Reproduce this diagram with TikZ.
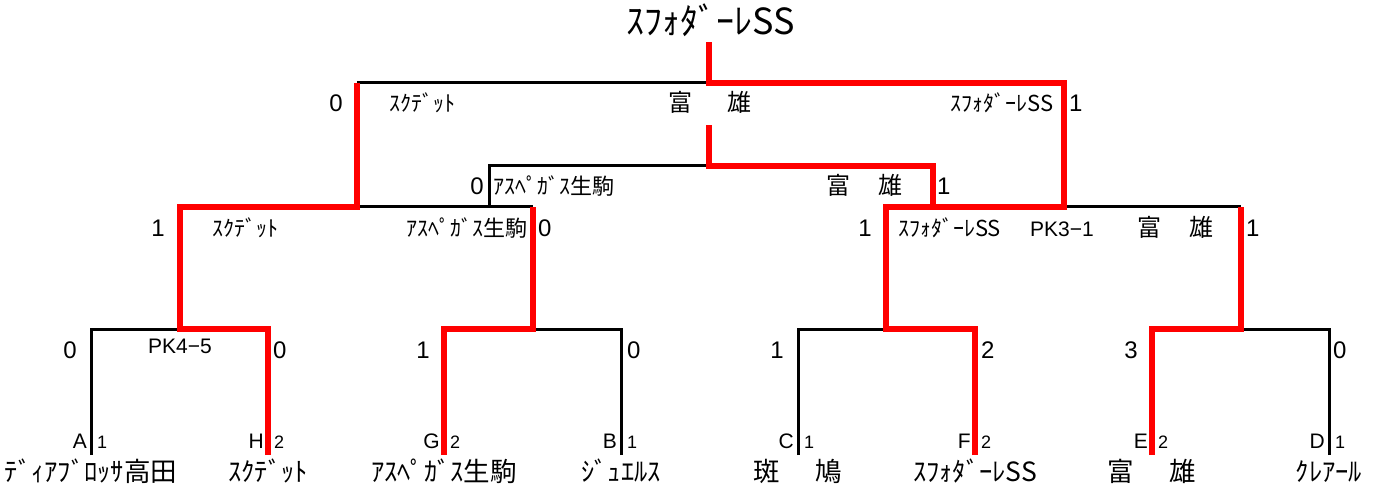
\documentclass[tikz,border=0pt]{standalone}
\usepackage{fontspec}
\setmainfont{Liberation Sans}
\newfontfamily\jp{Noto Sans CJK JP}
\usetikzlibrary{calc}
\tikzset{
    score/.style={font=\fontsize{24}{24}\selectfont, inner sep=0pt},
    club/.style={font=\jp\fontsize{22}{22}\selectfont, inner sep=0pt}, %small names
    team/.style={font=\jp\fontsize{26.5}{27}\selectfont, inner sep=0pt},
    letter/.style={font=\fontsize{21}{21}\selectfont, inner sep=0pt},
    seed/.style={font=\fontsize{18}{18}\selectfont, inner sep=0pt},
    lose/.style={draw=black, line width=3pt},
    win/.style={draw=red, line width=6.5pt, line join=miter},
  }

\begin{document}
\begin{tikzpicture}[x=1pt, y=-1pt]
          \useasboundingbox (0,0) rectangle (1386,489);
          % teams
          \coordinate (A) at (91,455);
          \coordinate (H) at (268,455);
          \coordinate (G) at (444,455);
          \coordinate (B) at (621,455);
          \coordinate (C) at (798,455);
          \coordinate (F) at (975,455);
          \coordinate (E) at (1152,455);
          \coordinate (D) at (1329,455);
          % joins
          \coordinate (m1) at (180,329);
          \coordinate (m2) at (533,329);
          \coordinate (m3) at (886,329);
          \coordinate (m4) at (1241,329);
          \coordinate (s1) at (357,207);
          \coordinate (s2) at (1064,207);
          \coordinate (l3) at (489,207);
          \coordinate (r3) at (933,207);
          \coordinate (t3) at (709,166);
          \coordinate (t3top) at (709,125);
          \coordinate (fin) at (709,83);
          \coordinate (top) at (709,42);

          % lost
          \draw[lose] (A) |- (m1);
          \draw[lose] (B) |- (m2);
          \draw[lose] (C) |- (m3);
          \draw[lose] (D) |- (m4);
          \draw[lose] (m2 |- s1) -- (s1);
          \draw[lose] (m4 |- s2) -- (s2);
          \draw[lose] (l3) |- (t3);
          \draw[lose] (s1 |- fin) -- (fin);
          % won
          \draw[win] (H) |- (m1) |- (s1) -- (s1 |- fin);
          \draw[win] (G) |- (m2) -- (m2 |- s1);
          \draw[win] (E) |- (m4) -- (m4 |- s2);
          \draw[win] (F) |- (m3) |- (s2) |- (fin) -- (top);
          \draw[win] (r3) |- (t3) -- (t3top);

          % champion
          \node[font=\jp\fontsize{36}{36}\selectfont, anchor=base] (champ) at (711,35) {ｽﾌｫﾀﾞｰﾚSS};

          % final
          \node[score, anchor=base east] (fsL) at (343,112) {0};
          \node[club, anchor=base west] (fnL) at (389,112) {ｽｸﾃﾞｯﾄ};
          \node[team, font=\jp\fontsize{24}{24}\selectfont, anchor=base] (fn3) at (710,112) {富\hspace{1.45em}雄};
          \node[club, anchor=base east] (fnR) at (1054,112) {ｽﾌｫﾀﾞｰﾚSS};
          \node[score, anchor=base west] (fsR) at (1069,112) {1};

          % third place
          \node[score, anchor=base east] (tsL) at (484,194) {0};
          \node[club, anchor=base west] (tnL) at (493,194) {ｱｽﾍﾟｶﾞｽ生駒};
          \node[team, font=\jp\fontsize{24}{24}\selectfont, anchor=base east] (tnR) at (903,194) {富\hspace{1.2em}雄};
          \node[score, anchor=base west] (tsR) at (937,194) {1};

          % semi finals
          \node[score, anchor=base east] (ss1) at (165,236) {1};
          \node[club, anchor=base west] (sn1) at (212,236) {ｽｸﾃﾞｯﾄ};
          \node[club, anchor=base east] (sn2) at (528,236) {ｱｽﾍﾟｶﾞｽ生駒};
          \node[score, anchor=base west] (ss2) at (538,236) {0};
          \node[score, anchor=base east] (ss3) at (872,236) {1};
          \node[club, anchor=base west] (sn3) at (898,236) {ｽﾌｫﾀﾞｰﾚSS};
          \node[score, font=\fontsize{21}{21}\selectfont, anchor=base west] (pk2) at (1030,236) {PK3−1};
          \node[team, font=\jp\fontsize{24}{24}\selectfont, anchor=base west] (sn4) at (1137,236) {富\hspace{1.2em}雄};
          \node[score, anchor=base west] (ss4) at (1246,236) {1};

          % first round
          \node[score, anchor=base east] (rA) at (77,358) {0};
          \node[score, font=\fontsize{21}{21}\selectfont, anchor=base] (pk1) at (180,353) {PK4−5};
          \node[score, anchor=base west] (rH) at (273,358) {0};
          \node[score, anchor=base east] (rG) at (430,358) {1};
          \node[score, anchor=base west] (rB) at (627,358) {0};
          \node[score, anchor=base east] (rC) at (784,358) {1};
          \node[score, anchor=base west] (rF) at (981,358) {2};
          \node[score, anchor=base east] (rE) at (1138,358) {3};
          \node[score, anchor=base west] (rD) at (1333,358) {0};

          % letters and seeds
          \node[letter, anchor=base east] (lA) at (87,448) {A};
          \node[seed, anchor=base west] (nA) at (97,448) {1};
          \node[letter, anchor=base east] (lH) at (264,448) {H};
          \node[seed, anchor=base west] (nH) at (274,448) {2};
          \node[letter, anchor=base east] (lG) at (440,448) {G};
          \node[seed, anchor=base west] (nG) at (450,448) {2};
          \node[letter, anchor=base east] (lB) at (617,448) {B};
          \node[seed, anchor=base west] (nB) at (627,448) {1};
          \node[letter, anchor=base east] (lC) at (794,448) {C};
          \node[seed, anchor=base west] (nC) at (804,448) {1};
          \node[letter, anchor=base east] (lF) at (971,448) {F};
          \node[seed, anchor=base west] (nF) at (981,448) {2};
          \node[letter, anchor=base east] (lE) at (1148,448) {E};
          \node[seed, anchor=base west] (nE) at (1158,448) {2};
          \node[letter, anchor=base east] (lD) at (1325,448) {D};
          \node[seed, anchor=base west] (nD) at (1335,448) {1};

          % team names
          \node[team, anchor=base] (tA) at (A |- 0,481) {ﾃﾞｨｱﾌﾞﾛｯｻ高田};
          \node[team, anchor=base] (tH) at (H |- 0,481) {ｽｸﾃﾞｯﾄ};
          \node[team, anchor=base] (tG) at (G |- 0,481) {ｱｽﾍﾟｶﾞｽ生駒};
          \node[team, anchor=base] (tB) at (B |- 0,481) {ｼﾞｭｴﾙｽ};
          \node[team, anchor=base] (tC) at (C |- 0,481) {斑\hspace{1.35em}鳩};
          \node[team, anchor=base] (tF) at (F |- 0,481) {ｽﾌｫﾀﾞｰﾚSS};
          \node[team, anchor=base] (tE) at (E |- 0,481) {富\hspace{1.35em}雄};
          \node[team, anchor=base] (tD) at (D |- 0,481) {ｸﾚｱｰﾙ};
        \end{tikzpicture}
\end{document}
